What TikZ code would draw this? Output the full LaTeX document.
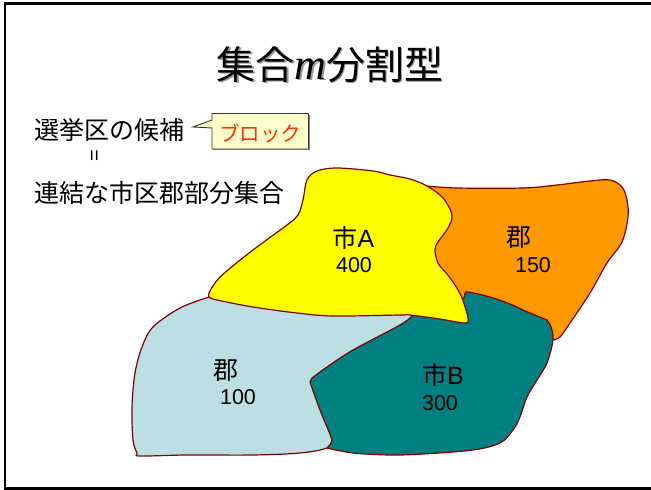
\documentclass[tikz,border=0pt]{standalone}
\usepackage{fontspec}
\newfontfamily\cjk{Noto Sans CJK JP}
\newfontfamily\lat{Liberation Sans}
\newfontfamily\serifi[ItalicFont=Liberation Serif Italic]{Liberation Serif}
\definecolor{edgered}{HTML}{800000}
\definecolor{regblue}{HTML}{BBDFE3}
\definecolor{regteal}{HTML}{008080}
\definecolor{regyellow}{HTML}{FFFF00}
\definecolor{regorange}{HTML}{FF9900}
\definecolor{tipfill}{HTML}{FFFFCC}
\definecolor{tiptext}{HTML}{FF3300}
\tikzset{
  region/.style={draw=edgered,line width=1.2pt,line join=round},
  sm/.style={smooth,tension=0.55},
  body/.style={font=\fontsize{25}{25}\selectfont\cjk,inner sep=0pt,anchor=west},
  lab/.style={font=\fontsize{25}{25}\selectfont\cjk,inner sep=0pt},
  num/.style={font=\fontsize{21.5}{21.5}\selectfont\lat,inner sep=0pt},
}
\newcommand{\titletext}{集合{\fontsize{44}{44}\selectfont\serifi\itshape m}分割型}
\begin{document}
\begin{tikzpicture}[x=1pt,y=-1pt]
\useasboundingbox (0,0) rectangle (651,490);
\fill[white] (0,0) rectangle (651,490);
\draw[black,line width=2.5pt] (660,3.7) -- (5.2,3.7) -- (5.2,488.5) -- (660,488.5);
% orange region
\filldraw[region,fill=regorange] plot[sm] coordinates {(427,186) (457,188) (523,188) (557,185) (590,181) (610,180) (622,187) (627,200) (628,217) (622,242) (607,263) (590,293) (570,323) (560,337) (553,340)} -- (500,330) -- (450,310) -- (420,250) -- cycle;
% light blue region
\filldraw[region,fill=regblue] plot[sm] coordinates {(209,297) (180,308) (153,327) (142,347) (135,373) (132,407) (133,440) (137,453) (140,456) (187,455) (253,455) (300,453) (327,448) (332,440)} -- (400,400) -- (440,316) -- (300,300) -- cycle;
% teal region
\filldraw[region,fill=regteal] plot[sm] coordinates {(412,316) (400,325) (353,350) (327,367) (312,378)} -- (310,382) -- (311,385) -- plot[sm] coordinates {(311,385) (320,410) (331,437) (331,443) (327,448)} -- plot[sm] coordinates {(327,448) (353,453) (390,455) (423,454) (473,450) (500,443) (513,430) (520,417) (527,397) (537,380) (547,363) (553,340) (551,327) (547,320)} -- plot[sm] coordinates {(547,320) (523,310) (510,304) (490,297) (468,292) (465,294) (464,298)} -- (450,310) -- cycle;
% yellow region
\filldraw[region,fill=regyellow] plot[sm] coordinates {(209,293) (220,277) (253,250) (287,225) (298,215) (303,200) (307,180) (317,171) (337,168) (373,171) (390,175) (410,179) (427,186) (443,198) (452,215) (448,228) (438,242) (435,250) (438,263) (447,274) (455,285) (462,298) (468,318) (465,323) (440,319) (410,315) (400,315) (333,316) (297,313) (253,307) (217,300) (209,297) (209,293)} -- cycle;
% title and left text
\node[font=\fontsize{39}{39}\selectfont\cjk,inner sep=0pt,text=black!40] (titleshadow) at (331.5,66) {\titletext};
\node[font=\fontsize{39}{39}\selectfont\cjk,inner sep=0pt] (title) at (330,64.5) {\titletext};
\node[body] (cand) at (34,130) {選挙区の候補};
\node[font=\fontsize{20}{20}\selectfont\lat,inner sep=0pt,rotate=90] (eq) at (96,155.5) {=};
\node[body] (conn) at (34,193) {連結な市区郡部分集合};
% callout
\fill[black!45] (213,115) rectangle (309.5,150.2);
\filldraw[draw=black!80,fill=tipfill,line width=0.9pt] (212,113.5) -- (308.5,113.5) -- (308.5,149) -- (212,149) -- (212,128) -- (193,127) -- (212,120) -- cycle;
\node[font=\fontsize{20.5}{20.5}\selectfont\cjk,text=tiptext,inner sep=0pt] (block) at (260,133) {ブロック};
% region labels
\node[lab] (a) at (353.5,238) {市{\lat A}};
\node[num] (an) at (354,265) {400};
\node[lab] (g1) at (226,371) {郡};
\node[num] (g1n) at (238,397) {100};
\node[lab] (b) at (443,375) {市{\lat B}};
\node[num] (bn) at (440,403.5) {300};
\node[lab] (g2) at (519,238) {郡};
\node[num] (g2n) at (533,265) {150};
\end{tikzpicture}
\end{document}
